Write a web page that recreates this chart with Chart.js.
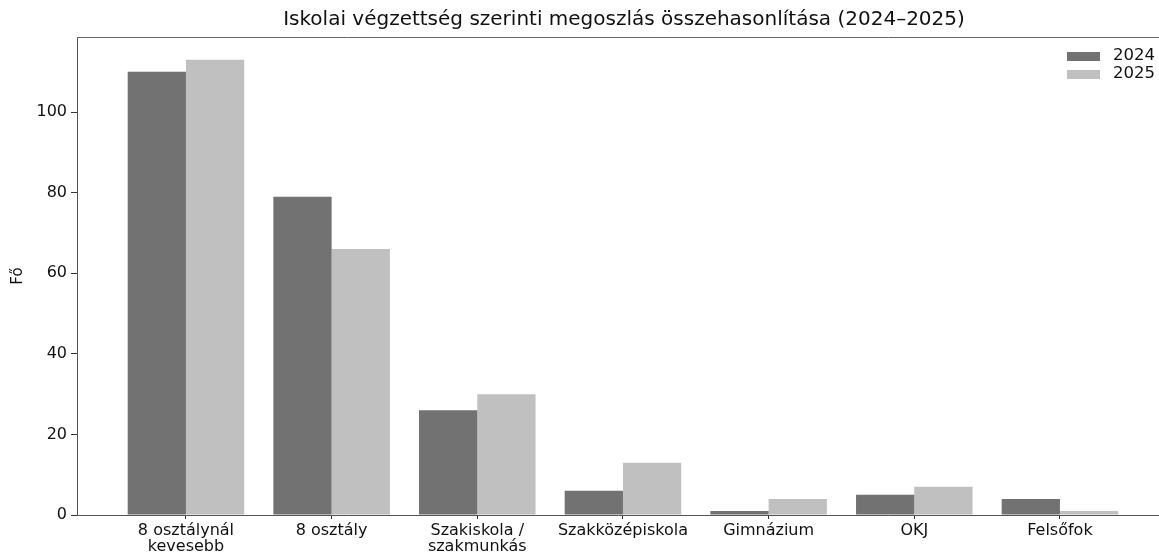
<!DOCTYPE html>
<html>
<head>
<meta charset="utf-8">
<script src="https://cdn.jsdelivr.net/npm/chart.js@4"></script>
<style>
  html, body { margin: 0; padding: 0; background: #fff; }
  #wrap { width: 1159px; height: 557px; }
</style>
</head>
<body>
<div id="wrap"><canvas id="vegzettsegChart" width="1159" height="557"></canvas></div>
<script>
const categories = ['8 osztálynál\nkevesebb', '8 osztály', 'Szakiskola /\nszakmunkás', 'Szakközépiskola', 'Gimnázium', 'OKJ', 'Felsőfok'];
const values2024 = [110, 79, 26, 6, 1, 5, 4];
const values2025 = [113, 66, 30, 13, 4, 7, 1];
const seriesLabels = ['2024', '2025'];
const yTicks = [0, 20, 40, 60, 80, 100];

const titleText = 'Iskolai végzettség szerinti megoszlás összehasonlítása (2024–2025)';
const FONT = 'DejaVu Sans';
const colors = ['#727272', '#c0c0c0'];

// title, top frame line and legend drawn by hand (matplotlib look)
const extrasPlugin = {
  id: 'extras',
  afterDraw(chart) {
    const { ctx, chartArea } = chart;
    ctx.save();
    ctx.strokeStyle = '#666';
    ctx.lineWidth = 1;
    ctx.beginPath();
    ctx.moveTo(chartArea.left, chartArea.top + 0.5);
    ctx.lineTo(chartArea.right, chartArea.top + 0.5);
    ctx.stroke();

    ctx.fillStyle = '#111';
    ctx.font = '20px "' + FONT + '"';
    ctx.textAlign = 'center';
    ctx.textBaseline = 'middle';
    ctx.fillText(titleText, 624, 20);

    ctx.font = '16.5px "' + FONT + '"';
    ctx.textAlign = 'left';
    seriesLabels.forEach((lab, i) => {
      const y = 56 + i * 18;
      ctx.fillStyle = colors[i];
      ctx.fillRect(1067, y - 4, 33, 9);
      ctx.fillStyle = '#111';
      ctx.fillText(lab, 1113, y);
    });
    ctx.restore();
  }
};

const ctx = document.getElementById('vegzettsegChart').getContext('2d');
new Chart(ctx, {
  type: 'bar',
  data: {
    datasets: [
      { label: seriesLabels[0], data: values2024.map((v, i) => ({ x: i, y: v })), backgroundColor: colors[0], borderWidth: 0 },
      { label: seriesLabels[1], data: values2025.map((v, i) => ({ x: i, y: v })), backgroundColor: colors[1], borderWidth: 0 }
    ]
  },
  options: {
    responsive: false,
    animation: false,
    layout: { padding: { top: 37, right: 0, left: 0, bottom: 0 } },
    datasets: { bar: { categoryPercentage: 0.8, barPercentage: 1.0 } },
    plugins: {
      legend: { display: false },
      tooltip: { enabled: false }
    },
    scales: {
      x: {
        type: 'linear',
        min: -0.748,
        max: 6.68,
        offset: false,
        grid: { offset: false, drawOnChartArea: false, drawTicks: true, tickLength: 4, color: '#333' },
        border: { display: true, color: '#555', width: 1 },
        ticks: {
          stepSize: 1,
          includeBounds: false,
          autoSkip: false,
          maxRotation: 0,
          padding: 4,
          color: '#111',
          font: { family: FONT, size: 16, lineHeight: 1.0 },
          callback: v => (Number.isInteger(v) && categories[v] !== undefined) ? categories[v].split('\n') : ''
        },
        afterFit: s => { s.height = 42; }
      },
      y: {
        min: 0,
        max: 118.65,
        grid: { drawOnChartArea: false, drawTicks: true, tickLength: 6, color: '#333' },
        border: { display: true, color: '#555', width: 1 },
        ticks: {
          stepSize: 20,
          includeBounds: false,
          padding: 4,
          color: '#111',
          font: { family: FONT, size: 16 },
          callback: v => yTicks.includes(v) ? String(v) : ''
        },
        title: { display: true, text: 'Fő', color: '#111', font: { family: FONT, size: 15 }, padding: { top: 9, bottom: 0 } },
        afterFit: s => { s.width = 77; }
      }
    }
  },
  plugins: [extrasPlugin]
});
</script>
</body>
</html>
